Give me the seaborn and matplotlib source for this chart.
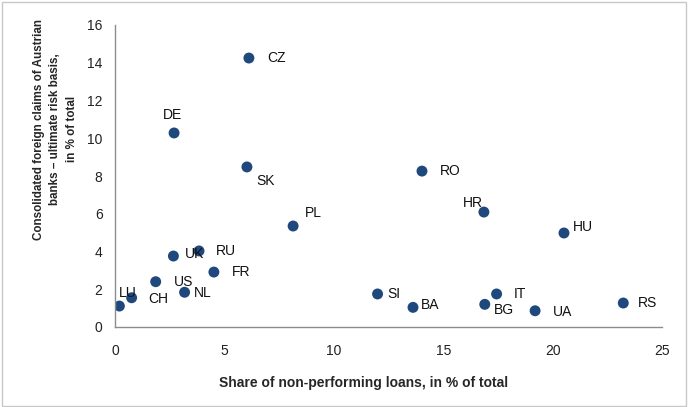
import matplotlib
matplotlib.use("Agg")
import matplotlib.pyplot as plt
import seaborn as sns
import pandas as pd
from matplotlib.patches import Rectangle

# data
countries = ["CZ", "DE", "SK", "RO", "PL", "HR", "HU", "UK", "RU", "FR",
             "US", "NL", "CH", "LU", "SI", "BA", "BG", "IT", "UA", "RS"]
npl_share = [6.12, 2.70, 6.03, 14.03, 8.14, 16.86, 20.52, 2.67, 3.84, 4.52,
             1.86, 3.18, 0.76, 0.20, 12.00, 13.62, 16.90, 17.44, 19.20, 23.23]
claims = [14.25, 10.28, 8.48, 8.26, 5.35, 6.09, 4.98, 3.76, 4.03, 2.91,
          2.40, 1.84, 1.55, 1.11, 1.75, 1.04, 1.20, 1.75, 0.86, 1.27]

# label offsets in pixels (dx, dy, ha)
label_pos = {
    "CZ": (18, 0, "left"), "DE": (-2, 18, "center"), "SK": (9, -14, "left"),
    "RO": (18, 0, "left"), "PL": (12, 13, "left"), "HR": (-11, 9, "center"),
    "HU": (9, 6, "left"), "UK": (11, 2, "left"), "RU": (17, 0, "left"),
    "FR": (18, 0, "left"), "US": (18, 0, "left"), "NL": (9, -1, "left"),
    "CH": (17, -1, "left"), "LU": (-1, 13, "left"), "SI": (10, 0, "left"),
    "BA": (8, 2, "left"), "BG": (9, -6, "left"), "IT": (17, 0, "left"),
    "UA": (18, -1, "left"), "RS": (15, 0, "left"),
}

df = pd.DataFrame({"country": countries, "npl": npl_share, "claims": claims})

sns.set_style("white")
plt.rcParams["font.family"] = ["Liberation Sans", "DejaVu Sans"]

fig = plt.figure(figsize=(6.89, 4.07), dpi=100)
ax = fig.add_axes([115 / 689, 80 / 407, 547 / 689, 302 / 407])

sns.scatterplot(data=df, x="npl", y="claims", ax=ax, color="#1F497D",
                s=62, edgecolor="none", legend=False)

for c, x, y in zip(countries, npl_share, claims):
    dx, dy, ha = label_pos[c]
    ax.annotate(c, (x, y), xytext=(dx, dy), textcoords="offset pixels",
                ha=ha, va="center", fontsize=10, color="#111111")

ax.set_xlim(0, 25)
ax.set_ylim(0, 16)
ax.set_xticks(range(0, 26, 5))
ax.set_yticks(range(0, 17, 2))

for side in ["top", "right"]:
    ax.spines[side].set_visible(False)
for side in ["left", "bottom"]:
    ax.spines[side].set_color("#8c8c8c")
    ax.spines[side].set_linewidth(1.0)
ax.tick_params(axis="both", which="both", length=4, width=1, color="#8c8c8c",
               labelsize=10, labelcolor="#222222", direction="out", pad=5)
ax.tick_params(axis="x", pad=8)

ax.set_xlabel("Share of non-performing loans, in % of total",
              fontsize=10, fontweight="bold")
ax.xaxis.set_label_coords(0.455, -0.162)
ax.set_ylabel("Consolidated foreign claims of Austrian\nbanks \u2013 ultimate risk basis,\nin % of total",
              fontsize=8.4, fontweight="bold", linespacing=1.5)
ax.yaxis.set_label_coords(-0.068, 0.655)

fig.patches.append(Rectangle((2 / 689, 1 / 407), 684 / 689, 404 / 407,
                             transform=fig.transFigure, fill=False,
                             edgecolor="#c8c8c8", linewidth=1))

fig.savefig("out.png", dpi=100)
